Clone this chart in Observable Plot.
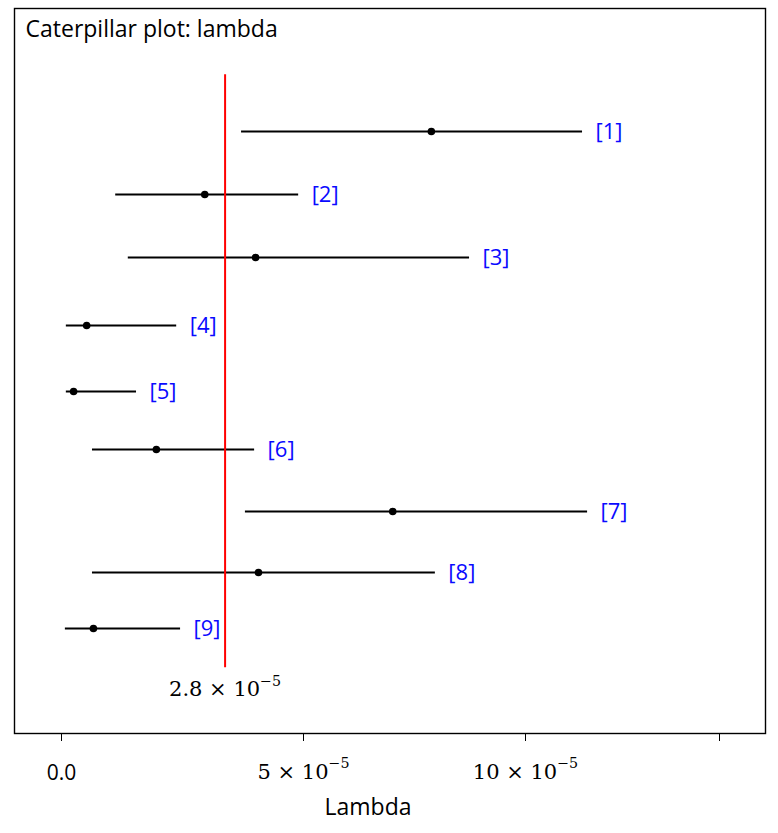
<!DOCTYPE html>
<html>
<head>
<meta charset="utf-8">
<script src="https://cdn.jsdelivr.net/npm/d3@7"></script>
<script src="https://cdn.jsdelivr.net/npm/@observablehq/plot@0.6"></script>
<style>
  html, body { margin: 0; padding: 0; background: #fff; }
  #chart { width: 778px; height: 833px; }
</style>
</head>
<body>
<div id="chart"></div>
<script>
// ---- data ----
const ids = [1, 2, 3, 4, 5, 6, 7, 8, 9];
const lowers = [3.72e-5, 1.12e-5, 1.38e-5, 0.10e-5, 0.10e-5, 0.64e-5, 3.80e-5, 0.64e-5, 0.08e-5];
const means  = [7.88e-5, 2.96e-5, 4.01e-5, 0.52e-5, 0.25e-5, 1.96e-5, 7.01e-5, 4.07e-5, 0.66e-5];
const uppers = [11.47e-5, 4.90e-5, 8.74e-5, 2.38e-5, 1.55e-5, 3.99e-5, 11.60e-5, 7.97e-5, 2.46e-5];
const refValue = 3.38e-5;            // position of the red reference line
const refLabel = "2.8 × 10⁻⁵";
const tickValues = [0, 5e-5, 10e-5, 15e-5];
const tickLabels = ["0.0", "5 × 10⁻⁵", "10 × 10⁻⁵", ""];
const title = "Caterpillar plot: lambda";
const xLabel = "Lambda";

const rows = ids.map((id, i) => ({id, lo: lowers[i], mean: means[i], hi: uppers[i], label: `[${id}]`}));
const ticks = tickValues.map((v, i) => ({v, label: tickLabels[i]}));

const sans = "'Open Sans', 'Noto Sans', sans-serif";
const serif = "'DejaVu Serif', 'Liberation Serif', serif";

const chart = Plot.plot({
  width: 778,
  height: 833,
  marginLeft: 14,
  marginRight: 13,
  marginTop: 8,
  marginBottom: 100,
  style: {background: "#fff", fontFamily: sans},
  x: {type: "linear", domain: [0, 5e-5, 10e-5, 15e-5], range: [61, 303, 525, 719],
      ticks: tickValues, tickFormat: () => "", tickSize: 8, label: null},
  y: {type: "linear", domain: ids, range: [131, 194, 257, 325, 391, 449, 511, 572, 628], axis: null},
  marks: [
    Plot.frame({stroke: "#000", strokeWidth: 1.4}),
    Plot.text(ticks.filter(d => d.v === 0), {x: "v", text: "label", frameAnchor: "bottom", dy: 46, fontSize: 21, fontFamily: sans, fill: "#000"}),
    Plot.text(ticks.filter(d => d.v !== 0), {x: "v", text: "label", frameAnchor: "bottom", dy: 45, fontSize: 21, fontFamily: serif, fill: "#000"}),
    Plot.ruleY(rows, {y: "id", x1: "lo", x2: "hi", stroke: "#000", strokeWidth: 1.8}),
    Plot.dot(rows, {x: "mean", y: "id", r: 3.8, fill: "#000", stroke: null}),
    Plot.text(rows, {x: "hi", y: "id", text: "label", textAnchor: "start", dx: 13, fill: "#0a0aff", fontSize: 22, fontFamily: sans}),
    Plot.ruleX([refValue], {x: d => d, y1: 0.1, y2: 9.7, stroke: "#ff0000", strokeWidth: 2}),
    Plot.text([refLabel], {x: () => refValue, y: () => 9.7, text: d => d, dy: 22, fontSize: 21, fontFamily: serif, fill: "#000"}),
    Plot.text([title], {frameAnchor: "top-left", text: d => d, dx: 11, dy: 12, textAnchor: "start", fontSize: 23, fontFamily: sans, fill: "#000"}),
    Plot.text([xLabel], {frameAnchor: "bottom", text: d => d, dx: -22, dy: 81, fontSize: 23, fontFamily: sans, fill: "#000"})
  ]
});

// render "⁻⁵" as a real raised superscript
chart.querySelectorAll("text").forEach(t => {
  const s = t.textContent;
  const m = s.match(/^(.*)⁻⁵$/);
  if (!m) return;
  while (t.firstChild) t.removeChild(t.firstChild);
  t.appendChild(document.createTextNode(m[1]));
  const sup = document.createElementNS("http://www.w3.org/2000/svg", "tspan");
  sup.setAttribute("dy", "-0.75em");
  sup.setAttribute("font-size", "0.68em");
  sup.textContent = "−5";
  t.appendChild(sup);
});

document.getElementById("chart").appendChild(chart);
</script>
</body>
</html>
